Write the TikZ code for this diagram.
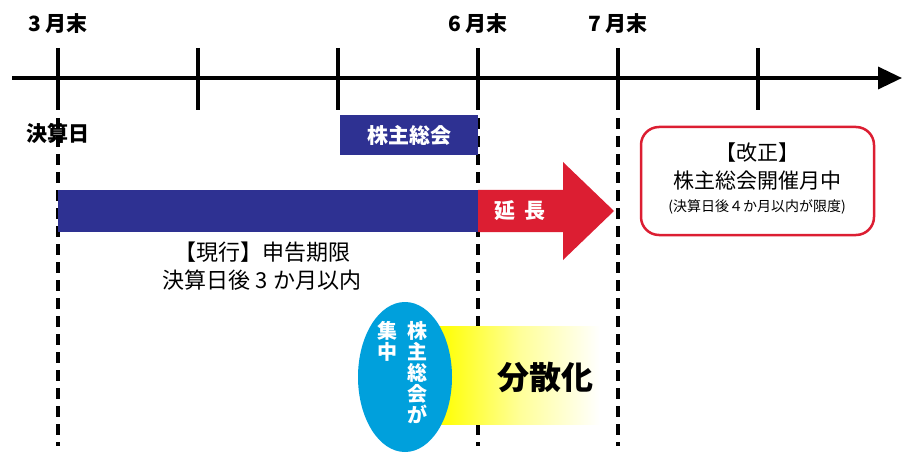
\documentclass[tikz,border=0pt]{standalone}
\usepackage{fontspec}
\setmainfont{Noto Sans CJK JP}
\usetikzlibrary{arrows.meta}
\definecolor{navy}{RGB}{46,49,146}
\definecolor{redarr}{RGB}{220,30,50}
\definecolor{cyanell}{RGB}{0,160,220}
\tikzset{
  tick/.style={line width=3.5pt},
  vdash/.style={line width=3.5pt, dash pattern=on 11pt off 7pt},
  lbl/.style={font=\bfseries\fontsize{21}{24}\selectfont},
  txt/.style={font=\fontsize{21}{26}\selectfont, align=center},
}
\begin{document}
\begin{tikzpicture}[x=1pt,y=-1pt]
\useasboundingbox (0,0) rectangle (908,468);

% axis
\draw [line width=3.5pt, -{Triangle[length=24pt,width=22pt]}] (12,78) -- (902,78);
\foreach \x in {58,198,338,478,618,758}
  \draw [tick] (\x,48) -- (\x,110);
\foreach \x in {58,478,618}
  \draw [vdash] (\x,118) -- (\x,446);

% month labels
\node [lbl] (m3) at (58,24) {3 月末};
\node [lbl] (m6) at (478,24) {6 月末};
\node [lbl] (m7) at (618,24) {7 月末};
\node [lbl] (kessan) at (58,133) {決算日};

% shareholders meeting box
\fill [navy] (340,115) rectangle (478,155);
\node [lbl, text=white] (soukai) at (409,135) {株主総会};

% current period bar
\fill [navy] (58,190) rectangle (478,232);
\fill [redarr] (478,190) -- (563,190) -- (563,162) -- (614,211) -- (563,260) -- (563,232) -- (478,232) -- cycle;
\node [lbl, text=white] (encho) at (520,211) {延\ \ 長};

% revision box
\draw [redarr, line width=2.5pt, rounded corners=18pt] (641,127) rectangle (874,235);
\node [txt, font=\fontsize{21}{28}\selectfont] (kaisei) at (757,166) {【改正】\\株主総会開催月中};
\node [txt, font=\fontsize{14}{16}\selectfont] (gendo) at (757,207) {(決算日後４か月以内が限度)};

% current rule
\node [txt, font=\fontsize{22}{28}\selectfont] (genkou) at (262,266) {【現行】申告期限\\決算日後 3 か月以内};

% dispersion
\shade [left color=yellow, right color=white, middle color=yellow!40] (440,326) rectangle (600,424);
\fill [cyanell] (405,377) ellipse (47pt and 75pt);
\node [lbl, text=white, align=center, font=\bfseries\fontsize{20}{21}\selectfont, anchor=north] (shuchu) at (387,318) {集\\中};
\node [lbl, text=white, align=center, font=\bfseries\fontsize{20}{21}\selectfont, anchor=north] (ga) at (417,318) {株\\主\\総\\会\\が};
\node [font=\bfseries\fontsize{32}{36}\selectfont] (bunsan) at (545,377) {分散化};
\end{tikzpicture}
\end{document}
